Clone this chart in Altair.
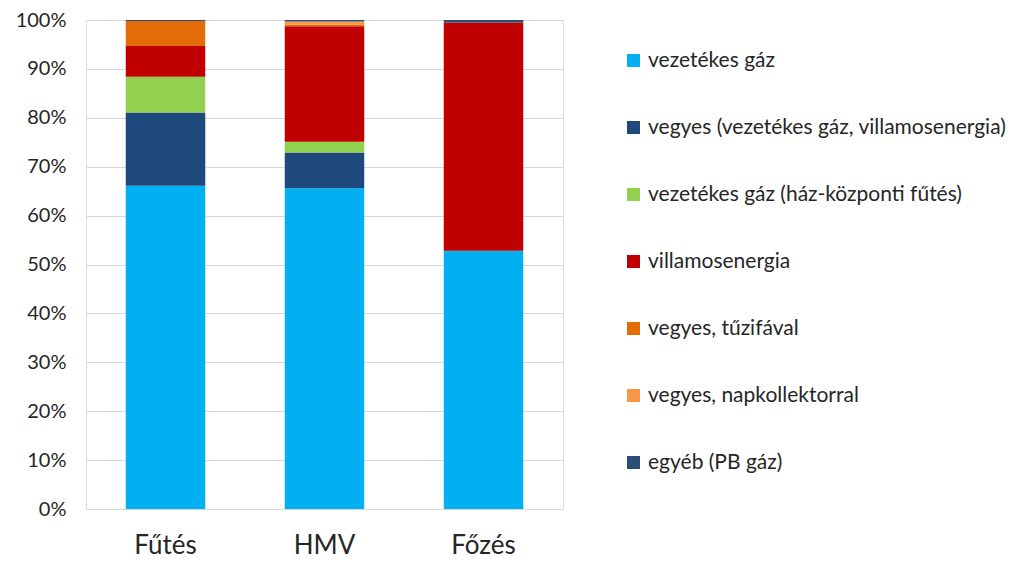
import altair as alt
import pandas as pd

categories = ["Fűtés", "HMV", "Főzés"]
series = [
    "vezetékes gáz",
    "vegyes (vezetékes gáz, villamosenergia)",
    "vezetékes gáz (ház-központi fűtés)",
    "villamosenergia",
    "vegyes, tűzifával",
    "vegyes, napkollektorral",
    "egyéb (PB gáz)",
]
colors = ["#00B0F0", "#1F497D", "#92D050", "#C00000", "#E36C09", "#F79646", "#2C4D75"]

futes = [66.1, 15.0, 7.3, 6.3, 5.1, 0.0, 0.2]
hmv = [65.6, 7.3, 2.2, 23.6, 0.4, 0.6, 0.3]
fozes = [52.8, 0.0, 0.0, 46.7, 0.0, 0.0, 0.5]

rows = []
for cat, vals in zip(categories, [futes, hmv, fozes]):
    for i, (s, v) in enumerate(zip(series, vals)):
        rows.append({"cat": cat, "series": s, "value": v, "order": i})
df = pd.DataFrame(rows)

font = "Lato"

chart = (
    alt.Chart(df)
    .mark_bar()
    .encode(
        x=alt.X(
            "cat:N",
            sort=categories,
            title=None,
            scale=alt.Scale(paddingInner=0.5, paddingOuter=0.25),
            axis=alt.Axis(
                labelAngle=0,
                labelFontSize=26,
                labelFont=font,
                labelColor="#262626",
                ticks=False,
                domain=False,
                labelPadding=23,
            ),
        ),
        y=alt.Y(
            "value:Q",
            stack="normalize",
            title=None,
            scale=alt.Scale(domain=[0, 1], nice=False),
            axis=alt.Axis(
                format="%",
                values=[0, 0.1, 0.2, 0.3, 0.4, 0.5, 0.6, 0.7, 0.8, 0.9, 1.0],
                labelFontSize=20,
                labelFont=font,
                labelColor="#262626",
                ticks=False,
                domain=False,
                labelPadding=20,
                gridColor="#D9D9D9",
                gridWidth=1,
            ),
        ),
        color=alt.Color(
            "series:N",
            sort=series,
            scale=alt.Scale(domain=series, range=colors),
            legend=alt.Legend(
                title=None,
                orient="none",
                legendX=537,
                legendY=30,
                symbolType="square",
                symbolSize=169,
                symbolStrokeWidth=0,
                labelFontSize=21,
                labelFont=font,
                labelColor="#262626",
                rowPadding=45,
                labelOffset=4,
                labelLimit=500,
            ),
        ),
        order=alt.Order("order:Q", sort="ascending"),
    )
    .properties(
        width=477,
        height=489,
        autosize=alt.AutoSizeParams(type="none"),
        padding={"left": 78, "top": 12, "right": 462, "bottom": 51},
    )
    .configure_view(stroke="#A6A6A6", strokeWidth=1.5)
    .configure(background="white")
)

chart.save("out.html", embed_options={"renderer": "svg", "actions": False})
